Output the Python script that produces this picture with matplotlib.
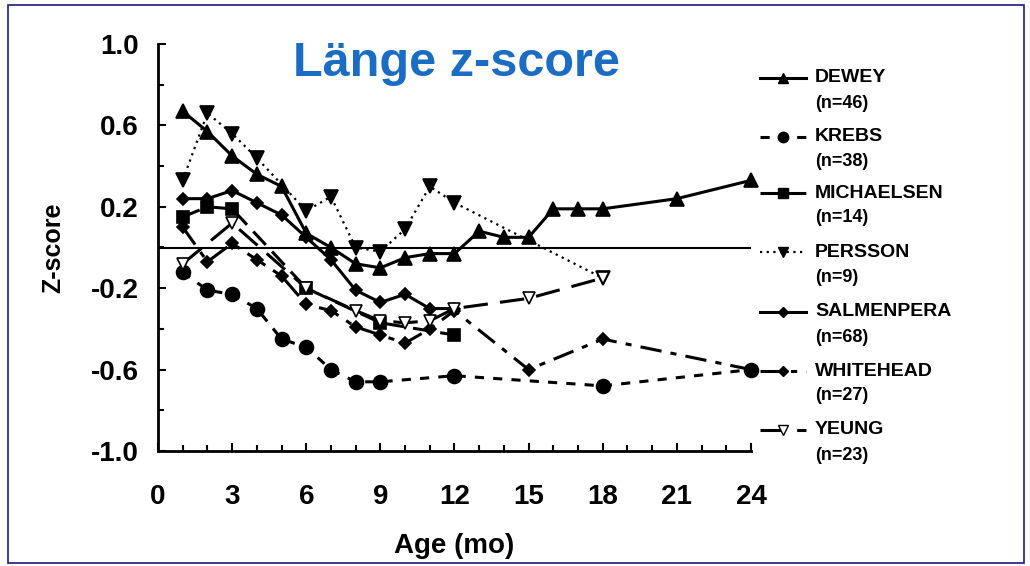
import matplotlib
matplotlib.use("Agg")
import matplotlib.pyplot as plt
from matplotlib.lines import Line2D
from matplotlib.patches import Rectangle
from matplotlib.ticker import MultipleLocator

plt.rcParams['font.family'] = ['Liberation Sans', 'DejaVu Sans']

# data
dewey_x = [1, 2, 3, 4, 5, 6, 7, 8, 9, 10, 11, 12, 13, 14, 15, 16, 17, 18, 21, 24]
dewey_y = [0.67, 0.57, 0.45, 0.36, 0.30, 0.07, 0.00, -0.08, -0.10, -0.05, -0.03, -0.03,
           0.08, 0.05, 0.05, 0.19, 0.19, 0.19, 0.24, 0.33]

krebs_x = [1, 2, 3, 4, 5, 6, 7, 8, 9, 12, 18, 24]
krebs_y = [-0.12, -0.21, -0.23, -0.30, -0.45, -0.49, -0.60, -0.66, -0.66, -0.63, -0.68, -0.60]

michaelsen_x = [1, 2, 3, 6, 9, 12]
michaelsen_y = [0.15, 0.20, 0.19, -0.20, -0.37, -0.43]

persson_x = [1, 2, 3, 4, 6, 7, 8, 9, 10, 11, 12, 18]
persson_y = [0.33, 0.66, 0.56, 0.44, 0.18, 0.25, 0.00, -0.02, 0.09, 0.30, 0.22, -0.15]

salmenpera_x = [1, 2, 3, 4, 5, 6, 7, 8, 9, 10, 11, 12]
salmenpera_y = [0.24, 0.24, 0.28, 0.22, 0.16, 0.05, -0.06, -0.21, -0.27, -0.23, -0.30, -0.30]

whitehead_x = [1, 2, 3, 4, 5, 6, 7, 8, 9, 10, 11, 12, 15, 18, 24]
whitehead_y = [0.10, -0.07, 0.02, -0.06, -0.14, -0.28, -0.31, -0.39, -0.43, -0.47, -0.40,
               -0.31, -0.60, -0.45, -0.60]

yeung_x = [1, 3, 6, 8, 9, 10, 11, 12, 15, 18]
yeung_y = [-0.08, 0.12, -0.20, -0.31, -0.36, -0.37, -0.36, -0.30, -0.25, -0.15]

names = ['DEWEY', 'KREBS', 'MICHAELSEN', 'PERSSON', 'SALMENPERA', 'WHITEHEAD', 'YEUNG']
n_values = [46, 38, 14, 9, 68, 27, 23]

styles = {
    'DEWEY': dict(ls='-', marker='^', ms=10, mfc='black'),
    'KREBS': dict(ls=(0, (3, 3)), marker='o', ms=10, mfc='black'),
    'MICHAELSEN': dict(ls=(0, (6, 3)), marker='s', ms=9, mfc='black'),
    'PERSSON': dict(ls=(0, (1, 2)), marker='v', ms=10, mfc='black', lw=1.6),
    'SALMENPERA': dict(ls='-', marker='D', ms=6.5, mfc='black'),
    'WHITEHEAD': dict(ls=(0, (7, 3, 2, 3)), marker='D', ms=6.5, mfc='black'),
    'YEUNG': dict(ls=(0, (8, 4)), marker='v', ms=9, mfc='white'),
}
series = {
    'DEWEY': (dewey_x, dewey_y),
    'KREBS': (krebs_x, krebs_y),
    'MICHAELSEN': (michaelsen_x, michaelsen_y),
    'PERSSON': (persson_x, persson_y),
    'SALMENPERA': (salmenpera_x, salmenpera_y),
    'WHITEHEAD': (whitehead_x, whitehead_y),
    'YEUNG': (yeung_x, yeung_y),
}

W, H = 1030, 566
fig = plt.figure(figsize=(W / 100, H / 100), dpi=100)
fig.patches.append(Rectangle((8 / W, 3 / H), 1016 / W, 558 / H, transform=fig.transFigure,
                             fill=False, edgecolor='#1c1c7a', lw=1.2))

ax = fig.add_axes([158 / W, 1 - 451 / H, 593 / W, 407 / H])

for name in names:
    x, y = series[name]
    st = dict(styles[name])
    lw = st.pop('lw', 2.2)
    ax.plot(x, y, color='black', lw=lw, mec='black', mew=1.2, clip_on=False, **st)

ax.axhline(0, color='black', lw=1.5, zorder=0)

ax.set_xlim(0, 24)
ax.set_ylim(-1.0, 1.0)
ax.xaxis.set_major_locator(MultipleLocator(3))
ax.xaxis.set_minor_locator(MultipleLocator(1))
ax.yaxis.set_minor_locator(MultipleLocator(0.2))
ax.set_yticks([1.0, 0.6, 0.2, -0.2, -0.6, -1.0])
ax.set_yticklabels(['1.0', '0.6', '0.2', '-0.2', '-0.6', '-1.0'])
ax.tick_params(which='both', direction='in', width=1.5)
ax.tick_params(which='major', length=6)
ax.tick_params(which='minor', length=4)
ax.tick_params(axis='x', which='major', pad=24, labelsize=20)
ax.tick_params(axis='y', which='major', pad=14, labelsize=20)
for lab in ax.get_xticklabels() + ax.get_yticklabels():
    lab.set_fontweight('bold')

for s in ['top', 'right']:
    ax.spines[s].set_visible(False)
for s in ['left', 'bottom']:
    ax.spines[s].set_linewidth(2)

ax.set_xlabel('Age (mo)', fontsize=20, fontweight='bold', labelpad=16)
ax.set_ylabel('Z-score', fontsize=18, fontweight='bold', labelpad=18)

fig.text(456 / W, 1 - 64 / H, 'Länge z-score', color='#1a6dc2', fontsize=35,
         fontweight='bold', ha='center', va='center')

# hand-made legend: handle beside the name line, n below
name_y = [78, 137, 193, 252, 312, 371, 430]
for name, n, py in zip(names, n_values, name_y):
    st = dict(styles[name])
    lw = st.pop('lw', 2.2)
    st['ms'] = st['ms'] * 0.75
    fy = 1 - py / H
    fig.add_artist(Line2D([760 / W, 783 / W, 806 / W], [fy, fy, fy], transform=fig.transFigure,
                          color='black', lw=lw, mec='black', markevery=[1], **st))
    fig.text(815 / W, fy, name, fontsize=14, fontweight='bold', va='center', ha='left')
    fig.text(815 / W, fy - 25 / H, '(n=%d)' % n, fontsize=13, fontweight='bold',
             va='center', ha='left')

fig.savefig('out.png', dpi=100)
